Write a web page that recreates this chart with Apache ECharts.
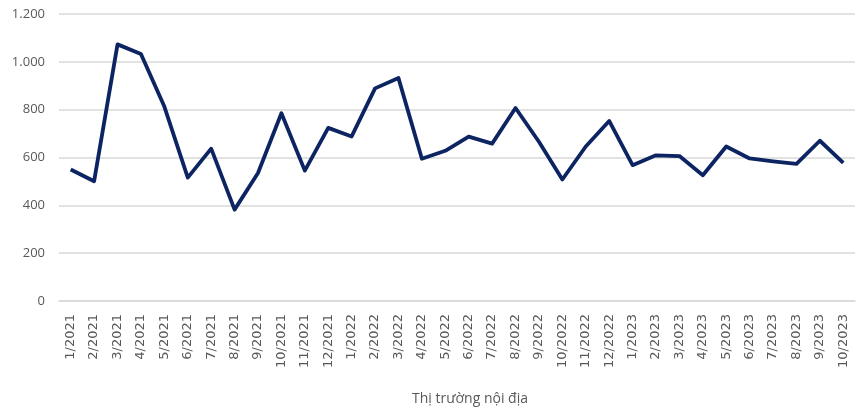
<!DOCTYPE html>
<html>
<head>
<meta charset="utf-8">
<script src="https://cdn.jsdelivr.net/npm/echarts@6/dist/echarts.min.js"></script>
<style>html,body{margin:0;padding:0;background:#fff}#c{width:861px;height:411px}</style>
</head>
<body>
<div id="c"></div>
<script>
const categories = ["1/2021","2/2021","3/2021","4/2021","5/2021","6/2021","7/2021","8/2021","9/2021","10/2021","11/2021","12/2021",
"1/2022","2/2022","3/2022","4/2022","5/2022","6/2022","7/2022","8/2022","9/2022","10/2022","11/2022","12/2022",
"1/2023","2/2023","3/2023","4/2023","5/2023","6/2023","7/2023","8/2023","9/2023","10/2023"];
const values = [550,501,1073,1033,813,516,637,382,535,785,545,724,
688,889,932,595,628,687,658,807,666,508,646,753,
568,609,606,526,646,596,584,573,670,578];
const axisTitle = "Thị trường nội địa";

const chart = echarts.init(document.getElementById('c'), null, {renderer:'canvas'});
chart.setOption({
  animation:false,
  grid:{left:59,right:6,top:14,bottom:109,containLabel:false},
  xAxis:{
    type:'category',
    data:categories,
    boundaryGap:true,
    name:axisTitle,
    nameLocation:'middle',
    nameGap:91,
    nameTextStyle:{color:'#595959',fontSize:14,fontFamily:'Open Sans',padding:[0,0,0,26]},
    axisLine:{show:true,lineStyle:{color:'#d9d9d9',width:1.5}},
    axisTick:{show:false},
    axisLabel:{rotate:90,interval:0,color:'#595959',fontSize:13,fontFamily:'DejaVu Sans',margin:13}
  },
  yAxis:{
    type:'value',
    min:0,max:1200,interval:200,
    axisLine:{show:false},
    axisTick:{show:false},
    splitLine:{lineStyle:{color:'#d9d9d9',width:1.5}},
    axisLabel:{color:'#595959',fontSize:13,fontFamily:'Open Sans',margin:14,
      formatter:v=>String(v).replace(/\B(?=(\d{3})+(?!\d))/g,'.')}
  },
  series:[{
    type:'line',
    data:values,
    symbol:'none',
    lineStyle:{color:'#0c2461',width:3.8,join:'round'},
    itemStyle:{color:'#0c2461'}
  }]
});
</script>
</body>
</html>
